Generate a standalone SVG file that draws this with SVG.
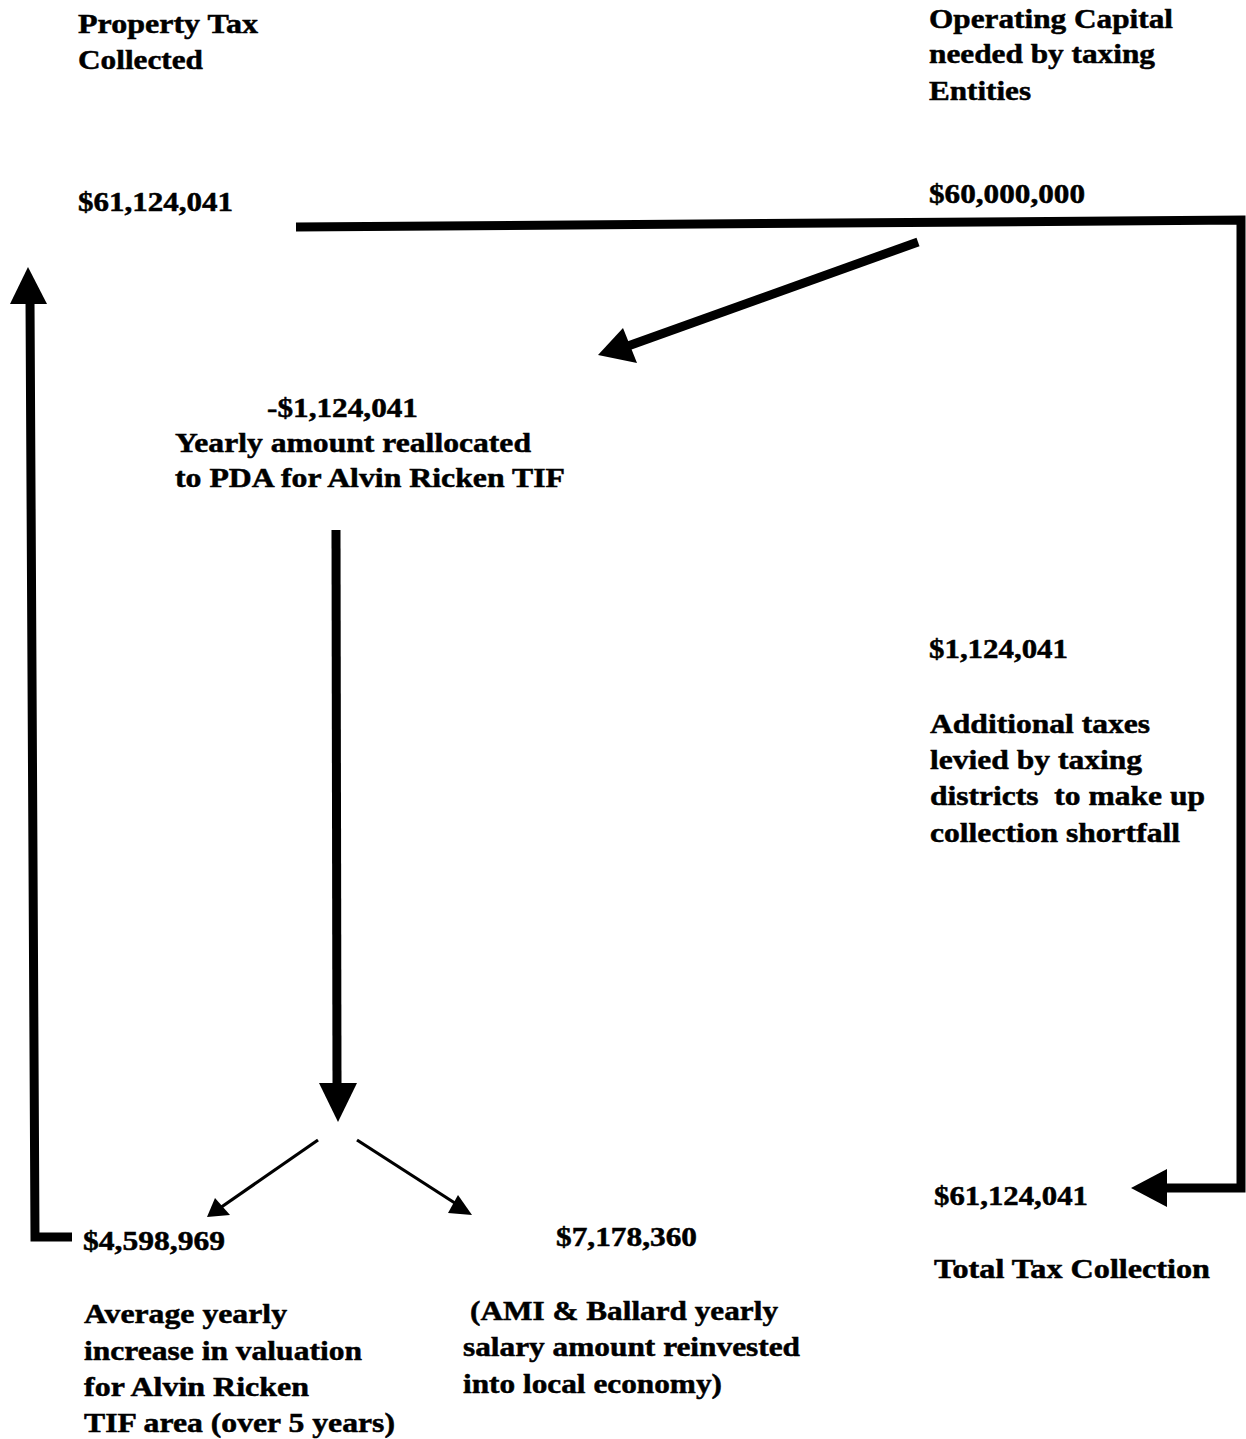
<svg xmlns="http://www.w3.org/2000/svg" width="1246" height="1439" viewBox="0 0 1246 1439">
<style>
text{font-family:"Liberation Serif","Times New Roman",serif;font-weight:bold;font-size:28px;fill:#000;stroke:#000;stroke-width:0.5}
.thick{fill:none;stroke:#000;stroke-width:9;stroke-linejoin:miter}
.thin{fill:none;stroke:#000;stroke-width:3.2}
.head{fill:#000;stroke:none}
</style>
<rect width="1246" height="1439" fill="#fff"/>
<g id="connectors">
  <polyline class="thick" points="296,227 1241,220 1241,1188 1165,1188"/>
  <polygon class="head" points="1131,1188 1167,1169 1167,1207"/>
  <line class="thick" x1="918" y1="242" x2="628" y2="346" stroke-width="10"/>
  <polygon class="head" points="598,355 623,328 637,363"/>
  <polyline class="thick" points="72,1237 35,1237 30,300"/>
  <polygon class="head" points="28,267 10,304 47,304"/>
  <line class="thick" x1="336" y1="530" x2="337" y2="1086"/>
  <polygon class="head" points="338,1122 319,1083 357,1083"/>
  <line class="thin" x1="318" y1="1140" x2="220" y2="1208"/>
  <polygon class="head" points="207,1217 215,1198 230,1215"/>
  <line class="thin" x1="357" y1="1140" x2="461" y2="1207"/>
  <polygon class="head" points="472,1215 458,1195 448,1213"/>
</g>
<g id="property-tax">
  <text x="78" y="33" textLength="180" lengthAdjust="spacingAndGlyphs">Property Tax</text>
  <text x="78" y="69" textLength="125" lengthAdjust="spacingAndGlyphs">Collected</text>
  <text x="78" y="211" textLength="155" lengthAdjust="spacingAndGlyphs">$61,124,041</text>
</g>
<g id="operating-capital">
  <text x="929" y="28" textLength="244" lengthAdjust="spacingAndGlyphs">Operating Capital</text>
  <text x="929" y="63" textLength="226" lengthAdjust="spacingAndGlyphs">needed by taxing</text>
  <text x="929" y="100" textLength="102" lengthAdjust="spacingAndGlyphs">Entities</text>
  <text x="929" y="203" textLength="156" lengthAdjust="spacingAndGlyphs">$60,000,000</text>
</g>
<g id="reallocated">
  <text x="267" y="417" textLength="151" lengthAdjust="spacingAndGlyphs">-$1,124,041</text>
  <text x="175" y="452" textLength="356" lengthAdjust="spacingAndGlyphs">Yearly amount reallocated</text>
  <text x="175" y="487" textLength="390" lengthAdjust="spacingAndGlyphs">to PDA for Alvin Ricken TIF</text>
</g>
<g id="additional-taxes">
  <text x="929" y="658" textLength="139" lengthAdjust="spacingAndGlyphs">$1,124,041</text>
  <text x="930" y="733" textLength="220" lengthAdjust="spacingAndGlyphs">Additional taxes</text>
  <text x="930" y="769" textLength="212" lengthAdjust="spacingAndGlyphs">levied by taxing</text>
  <text x="930" y="805" textLength="275" lengthAdjust="spacingAndGlyphs" xml:space="preserve">districts  to make up</text>
  <text x="930" y="842" textLength="250" lengthAdjust="spacingAndGlyphs">collection shortfall</text>
</g>
<g id="total-tax">
  <text x="934" y="1205" textLength="154" lengthAdjust="spacingAndGlyphs">$61,124,041</text>
  <text x="934" y="1278" textLength="276" lengthAdjust="spacingAndGlyphs">Total Tax Collection</text>
</g>
<g id="valuation-increase">
  <text x="83" y="1250" textLength="142" lengthAdjust="spacingAndGlyphs">$4,598,969</text>
  <text x="84" y="1323" textLength="203" lengthAdjust="spacingAndGlyphs">Average yearly</text>
  <text x="84" y="1360" textLength="278" lengthAdjust="spacingAndGlyphs">increase in valuation</text>
  <text x="84" y="1396" textLength="225" lengthAdjust="spacingAndGlyphs">for Alvin Ricken</text>
  <text x="84" y="1432" textLength="311" lengthAdjust="spacingAndGlyphs">TIF area (over 5 years)</text>
</g>
<g id="salary">
  <text x="556" y="1246" textLength="141" lengthAdjust="spacingAndGlyphs">$7,178,360</text>
  <text x="470" y="1320" textLength="308" lengthAdjust="spacingAndGlyphs">(AMI &amp; Ballard yearly</text>
  <text x="463" y="1356" textLength="337" lengthAdjust="spacingAndGlyphs">salary amount reinvested</text>
  <text x="463" y="1393" textLength="259" lengthAdjust="spacingAndGlyphs">into local economy)</text>
</g>
</svg>
